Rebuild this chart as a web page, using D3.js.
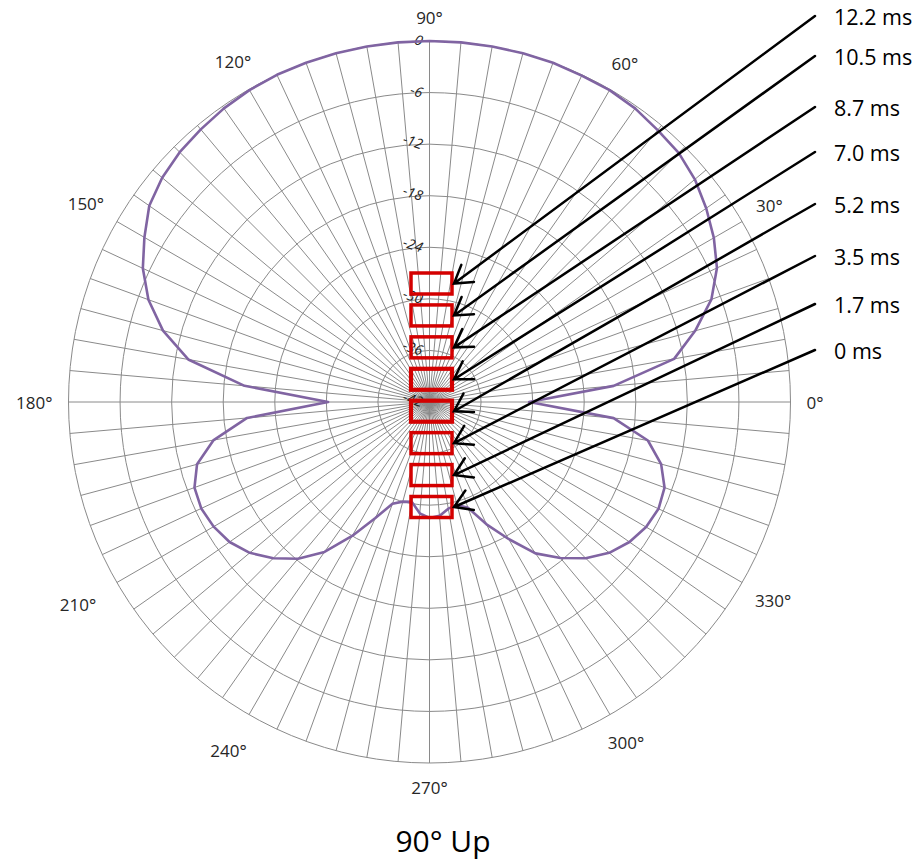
<!DOCTYPE html>
<html><head><meta charset="utf-8">
<script src="https://cdn.jsdelivr.net/npm/d3@7"></script>
<style>body{margin:0;background:#fff;} svg{display:block;}</style>
</head><body>
<svg id="chart" width="923" height="862"></svg>
<script>
// ---- data ----
const angles = [0,5,10,15,20,25,30,35,40,45,50,55,60,65,70,75,80,85,
  90,95,100,105,110,115,120,125,130,135,140,145,150,155,160,165,170,175,
  180,185,190,195,200,205,210,215,220,225,230,235,240,245,250,255,260,265,
  270,275,280,285,290,295,300,305,310,315,320,325,330,335,340,345,350,355];
const levels = [-30.4,-20.5,-13.1,-10.0,-7.1,-5.1,-3.8,-2.7,-1.7,-1.0,-0.7,-0.3,-0.1,-0.1,0,0,0,0,
  0,0,0,0,0,0,-0.1,-0.3,-0.6,-0.9,-1.4,-2.2,-3.7,-5.2,-7.2,-9.9,-13.5,-20.4,
  -30.2,-20.7,-16.5,-14.0,-12.9,-12.7,-13.0,-13.6,-14.7,-16.3,-18.2,-20.7,-24.0,-27.1,-29.4,-30.0,-30.2,-29.0,
  -28.5,-28.7,-29.4,-29.6,-28.9,-26.3,-23.6,-20.5,-18.3,-16.3,-14.7,-13.6,-12.9,-12.6,-12.9,-14.1,-16.2,-20.5];
const ringTicks = [0,-6,-12,-18,-24,-30,-36,-42];
const angleTicks = [0,30,60,90,120,150,180,210,240,270,300,330];
const timeLabels = ["12.2 ms","10.5 ms","8.7 ms","7.0 ms","5.2 ms","3.5 ms","1.7 ms","0 ms"];
const chartTitle = "90° Up";

// ---- layout ----
const cx = 429.5, cy = 402, R = 361;
const labelYs = [16, 56, 107, 152, 204, 256, 304, 350];
const svg = d3.select("#chart");
const rScale = d3.scaleLinear().domain([-42, 0]).range([0, R]);
const toRad = d => d * Math.PI / 180;
const g = svg.append("g").attr("transform", `translate(${cx},${cy})`);

// grid rings
g.selectAll("circle.ring").data(ringTicks.filter(t => t > -42)).join("circle")
  .attr("class","ring").attr("r", d => rScale(d))
  .attr("fill","none").attr("stroke","#8a8a8a").attr("stroke-width",1);
// spokes
g.selectAll("line.spoke").data(d3.range(0, 360, 5)).join("line")
  .attr("class","spoke")
  .attr("x1",0).attr("y1",0)
  .attr("x2", d => R * Math.cos(toRad(d)))
  .attr("y2", d => -R * Math.sin(toRad(d)))
  .attr("stroke","#8a8a8a").attr("stroke-width",1);

// radial tick labels
g.selectAll("text.rt").data(ringTicks).join("text")
  .attr("class","rt")
  .attr("x", -7).attr("y", d => -rScale(d))
  .attr("text-anchor","end").attr("dominant-baseline","central")
  .attr("transform", d => `rotate(18, -7, ${-rScale(d)})`)
  .attr("font-family","Open Sans, sans-serif").attr("font-size",14)
  .attr("font-style","italic")
  .attr("fill","#222")
  .text(d => d);

// angle labels
const al = g.selectAll("text.at").data(angleTicks).join("text")
  .attr("class","at")
  .attr("text-anchor","middle").attr("dominant-baseline","central")
  .attr("font-family","Open Sans, sans-serif").attr("font-size",17)
  .attr("fill","#262626")
  .text(d => d + "°");
al.each(function(d){
  const w = this.getComputedTextLength();
  const a = toRad(d);
  const extra = (d === 210 || d === 240) ? 9 : 0;
  const rr = 377 + extra + (w/2) * Math.abs(Math.cos(a)) + 8 * Math.abs(Math.sin(a));
  d3.select(this).attr("x", rr * Math.cos(a)).attr("y", -rr * Math.sin(a));
});

// data curve
const pts = angles.map((a, i) => ({a, v: levels[i]}));
const radial = d3.lineRadial()
  .angle(d => toRad(90 - d.a))
  .radius(d => rScale(d.v))
  .curve(d3.curveLinearClosed);
g.append("path").datum(pts).attr("d", radial)
  .attr("fill","none").attr("stroke","#8064A2").attr("stroke-width",2.6)
  .attr("stroke-linejoin","round");

// red boxes
const yBox = d3.scalePoint().domain(timeLabels).range([283.5, 507]);
svg.selectAll("rect.box").data(timeLabels).join("rect")
  .attr("class","box")
  .attr("x", 411).attr("width", 41)
  .attr("y", d => yBox(d) - 10.5).attr("height", 21)
  .attr("fill","none").attr("stroke","#d40000")
  .attr("stroke-width", (d,i) => (i === 3 || i === 4) ? 4.2 : 3.5);

// arrows
const tipX = 454, startX = 815;
timeLabels.forEach((t, i) => {
  const tx = tipX, ty = yBox(t), sx = startX, sy = labelYs[i];
  const ang = Math.atan2(sy - ty, sx - tx);
  const L = 20, spread = toRad(32);
  const p = d3.path();
  p.moveTo(sx, sy); p.lineTo(tx, ty);
  p.moveTo(tx + L * Math.cos(ang - spread), ty + L * Math.sin(ang - spread));
  p.lineTo(tx, ty);
  p.lineTo(tx + L * Math.cos(ang + spread), ty + L * Math.sin(ang + spread));
  svg.append("path").attr("d", p.toString())
    .attr("fill","none").attr("stroke","#000").attr("stroke-width",2.5)
    .attr("stroke-linecap","round").attr("stroke-linejoin","miter");
  svg.append("text").attr("x", 834).attr("y", sy)
    .attr("dominant-baseline","central")
    .attr("font-family","Open Sans, sans-serif").attr("font-size",21.5)
    .attr("fill","#000").text(t);
});

// title
svg.append("text").attr("x", 443).attr("y", 852)
  .attr("text-anchor","middle")
  .attr("font-family","Open Sans, sans-serif").attr("font-size",30)
  .attr("fill","#000").text(chartTitle);
</script>
</body></html>
